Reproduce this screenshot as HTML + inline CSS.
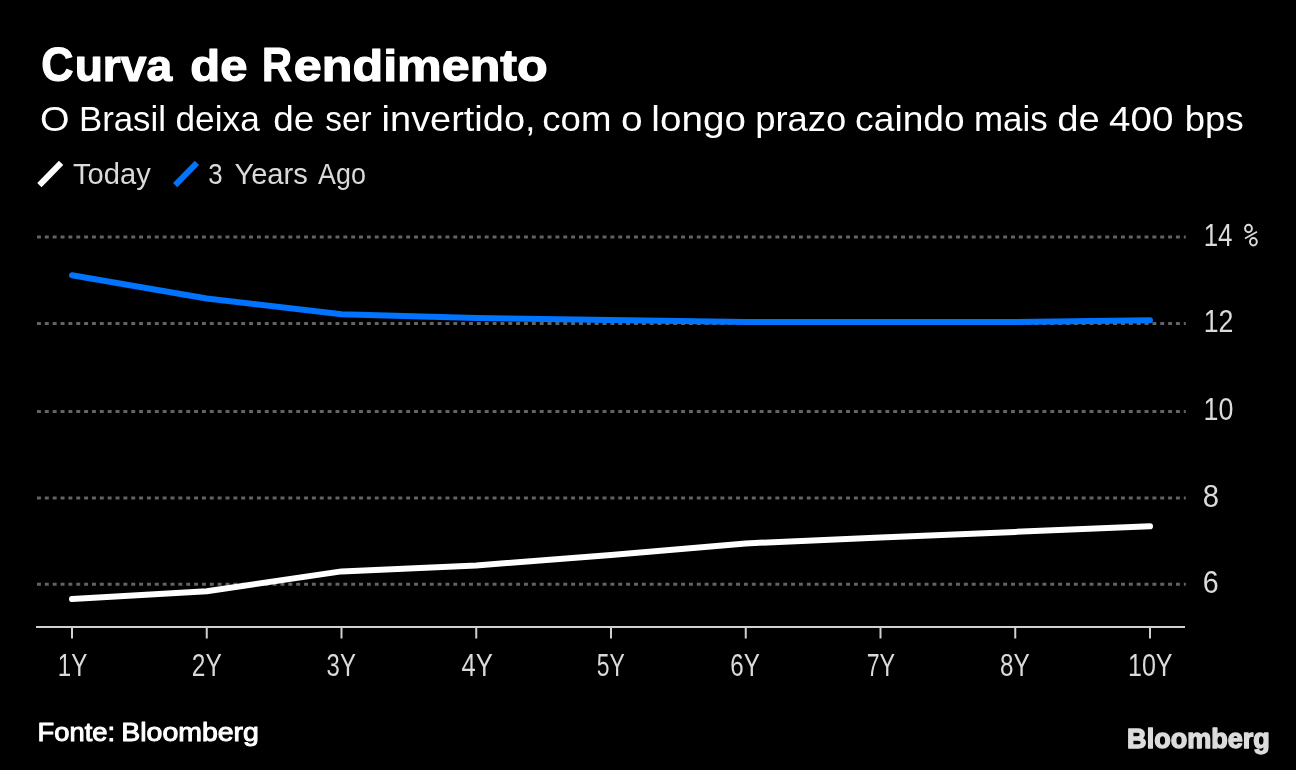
<!DOCTYPE html>
<html lang="pt">
<head>
<meta charset="utf-8">
<title>Curva de Rendimento</title>
<style>
  html, body { margin: 0; padding: 0; background: #000; }
  body { width: 1296px; height: 770px; overflow: hidden; font-family: "Liberation Sans", sans-serif; }
  svg { display: block; will-change: transform; }
  text { font-family: "Liberation Sans", sans-serif; }
  .grid { stroke: #636363; stroke-width: 3; stroke-dasharray: 3.93 3.925; fill: none; }
  .axis { stroke: #d0d0d0; stroke-width: 2; fill: none; }
</style>
</head>
<body>
<svg width="1296" height="770" viewBox="0 0 1296 770">
  <rect x="0" y="0" width="1296" height="770" fill="#000"/>

  <!-- Legend swatches -->
  <line x1="39.4" y1="185.1" x2="61.1" y2="162.9" stroke="#fff" stroke-width="6"/>
  <line x1="175.2" y1="185.1" x2="196.9" y2="162.9" stroke="#0073ff" stroke-width="6"/>

  <!-- Gridlines -->
  <g class="grid">
    <line x1="37" y1="237.1" x2="1185.8" y2="237.1"/>
    <line x1="37" y1="323.4" x2="1185.8" y2="323.4"/>
    <line x1="37" y1="411.4" x2="1185.8" y2="411.4"/>
    <line x1="37" y1="497.9" x2="1185.8" y2="497.9"/>
    <line x1="37" y1="584.3" x2="1185.8" y2="584.3"/>
  </g>

  <!-- Series -->
  <polyline fill="none" stroke="#0073ff" stroke-width="6" stroke-linecap="round" stroke-linejoin="round"
    points="72,275.3 206.75,298.5 341.5,314.3 476.25,318 611,320 745.75,322 880.5,322 1015.25,322 1150,320.3"/>
  <polyline fill="none" stroke="#fff" stroke-width="6" stroke-linecap="round" stroke-linejoin="round"
    points="72,599.0 206.75,591.2 341.5,571.4 476.25,565.5 611,554.9 745.75,543.4 880.5,537.6 1015.25,531.9 1150,526.3"/>

  <!-- X axis -->
  <line class="axis" x1="36" y1="627" x2="1185" y2="627"/>
  <g class="axis">
    <line x1="72" y1="627" x2="72" y2="638.5"/>
    <line x1="206.75" y1="627" x2="206.75" y2="638.5"/>
    <line x1="341.5" y1="627" x2="341.5" y2="638.5"/>
    <line x1="476.25" y1="627" x2="476.25" y2="638.5"/>
    <line x1="611" y1="627" x2="611" y2="638.5"/>
    <line x1="745.75" y1="627" x2="745.75" y2="638.5"/>
    <line x1="880.5" y1="627" x2="880.5" y2="638.5"/>
    <line x1="1015.25" y1="627" x2="1015.25" y2="638.5"/>
    <line x1="1150" y1="627" x2="1150" y2="638.5"/>
  </g>

  <!-- percent sign (custom glyph) -->
  <g id="pct" fill="none" stroke="#dadada">
    <ellipse cx="1248.5" cy="228.5" rx="3.4" ry="3.7" stroke-width="2"/>
    <ellipse cx="1253.4" cy="241.7" rx="3.4" ry="3.7" stroke-width="2"/>
    <line x1="1257" y1="231.7" x2="1245" y2="238.4" stroke-width="1.7"/>
  </g>

  <!-- Text -->
  <text id="t0" x="41.17" y="81.0" font-size="48.2" font-weight="bold" fill="#ffffff" textLength="32.27" lengthAdjust="spacingAndGlyphs" stroke="#fff" stroke-width="1.2" stroke-linejoin="round">C</text>
  <text id="t0b" x="74.65" y="81.0" font-size="45" font-weight="bold" fill="#ffffff" textLength="97.50" lengthAdjust="spacingAndGlyphs" stroke="#fff" stroke-width="1.2" stroke-linejoin="round">urva</text>
  <text id="t1" x="190.31" y="81.0" font-size="45" font-weight="bold" fill="#ffffff" textLength="57.10" lengthAdjust="spacingAndGlyphs" stroke="#fff" stroke-width="1.2" stroke-linejoin="round">de</text>
  <text id="t2" x="262.01" y="81.0" font-size="48.2" font-weight="bold" fill="#ffffff" textLength="30.08" lengthAdjust="spacingAndGlyphs" stroke="#fff" stroke-width="1.2" stroke-linejoin="round">R</text>
  <text id="t2b" x="293.88" y="81.0" font-size="45" font-weight="bold" fill="#ffffff" textLength="253.88" lengthAdjust="spacingAndGlyphs" stroke="#fff" stroke-width="1.2" stroke-linejoin="round">endimento</text>
  <text id="s0" x="40.12" y="131.3" font-size="35" fill="#ffffff" textLength="29.51" lengthAdjust="spacingAndGlyphs" >O</text>
  <text id="s1" x="78.91" y="131.3" font-size="35" fill="#ffffff" textLength="87.06" lengthAdjust="spacingAndGlyphs" >Brasil</text>
  <text id="s2" x="175.49" y="131.3" font-size="35" fill="#ffffff" textLength="84.27" lengthAdjust="spacingAndGlyphs" >deixa</text>
  <text id="s3" x="273.35" y="131.3" font-size="35" fill="#ffffff" textLength="41.00" lengthAdjust="spacingAndGlyphs" >de</text>
  <text id="s4" x="325.30" y="131.3" font-size="35" fill="#ffffff" textLength="46.37" lengthAdjust="spacingAndGlyphs" >ser</text>
  <text id="s5" x="381.63" y="131.3" font-size="35" fill="#ffffff" textLength="153.92" lengthAdjust="spacingAndGlyphs" >invertido,</text>
  <text id="s6" x="542.25" y="131.3" font-size="35" fill="#ffffff" textLength="69.10" lengthAdjust="spacingAndGlyphs" >com</text>
  <text id="s7" x="621.09" y="131.3" font-size="35" fill="#ffffff" textLength="21.64" lengthAdjust="spacingAndGlyphs" >o</text>
  <text id="s8" x="651.39" y="131.3" font-size="35" fill="#ffffff" textLength="94.52" lengthAdjust="spacingAndGlyphs" >longo</text>
  <text id="s9" x="755.17" y="131.3" font-size="35" fill="#ffffff" textLength="91.16" lengthAdjust="spacingAndGlyphs" >prazo</text>
  <text id="s10" x="855.14" y="131.3" font-size="35" fill="#ffffff" textLength="109.52" lengthAdjust="spacingAndGlyphs" >caindo</text>
  <text id="s11" x="974.01" y="131.3" font-size="35" fill="#ffffff" textLength="73.69" lengthAdjust="spacingAndGlyphs" >mais</text>
  <text id="s12" x="1057.21" y="131.3" font-size="35" fill="#ffffff" textLength="42.60" lengthAdjust="spacingAndGlyphs" >de</text>
  <text id="s13" x="1109.10" y="131.3" font-size="35" fill="#ffffff" textLength="64.41" lengthAdjust="spacingAndGlyphs" >400</text>
  <text id="s14" x="1184.82" y="131.3" font-size="35" fill="#ffffff" textLength="58.81" lengthAdjust="spacingAndGlyphs" >bps</text>
  <text id="leg1" x="73.05" y="183.6" font-size="30" fill="#dadada" textLength="77.75" lengthAdjust="spacingAndGlyphs" >Today</text>
  <text id="leg2a" x="208.14" y="183.6" font-size="30" fill="#dadada" textLength="14.35" lengthAdjust="spacingAndGlyphs" >3</text>
  <text id="leg2b" x="234.40" y="183.6" font-size="30" fill="#dadada" textLength="73.47" lengthAdjust="spacingAndGlyphs" >Years</text>
  <text id="leg2c" x="318.10" y="183.6" font-size="30" fill="#dadada" textLength="47.81" lengthAdjust="spacingAndGlyphs" >Ago</text>
  <text id="y14" x="1203.70" y="246.0" font-size="30.5" fill="#dadada" textLength="28.87" lengthAdjust="spacingAndGlyphs" >14</text>
  <text id="y12" x="1203.64" y="332.3" font-size="30.5" fill="#dadada" textLength="29.80" lengthAdjust="spacingAndGlyphs" >12</text>
  <text id="y10" x="1203.44" y="420.3" font-size="30.5" fill="#dadada" textLength="29.91" lengthAdjust="spacingAndGlyphs" >10</text>
  <text id="y8" x="1202.84" y="506.8" font-size="30.5" fill="#dadada" textLength="16.28" lengthAdjust="spacingAndGlyphs" >8</text>
  <text id="y6" x="1202.86" y="593.2" font-size="30.5" fill="#dadada" textLength="15.94" lengthAdjust="spacingAndGlyphs" >6</text>
  <text id="x1" x="57.72" y="676" font-size="30.5" fill="#dadada" textLength="29.56" lengthAdjust="spacingAndGlyphs" >1Y</text>
  <text id="x2" x="191.80" y="676" font-size="30.5" fill="#dadada" textLength="29.98" lengthAdjust="spacingAndGlyphs" >2Y</text>
  <text id="x3" x="326.62" y="676" font-size="30.5" fill="#dadada" textLength="29.25" lengthAdjust="spacingAndGlyphs" >3Y</text>
  <text id="x4" x="461.50" y="676" font-size="30.5" fill="#dadada" textLength="31.39" lengthAdjust="spacingAndGlyphs" >4Y</text>
  <text id="x5" x="596.65" y="676" font-size="30.5" fill="#dadada" textLength="28.01" lengthAdjust="spacingAndGlyphs" >5Y</text>
  <text id="x6" x="730.31" y="676" font-size="30.5" fill="#dadada" textLength="29.56" lengthAdjust="spacingAndGlyphs" >6Y</text>
  <text id="x7" x="866.64" y="676" font-size="30.5" fill="#dadada" textLength="28.42" lengthAdjust="spacingAndGlyphs" >7Y</text>
  <text id="x8" x="999.90" y="676" font-size="30.5" fill="#dadada" textLength="29.67" lengthAdjust="spacingAndGlyphs" >8Y</text>
  <text id="x10" x="1127.96" y="676" font-size="30.5" fill="#dadada" textLength="44.63" lengthAdjust="spacingAndGlyphs" >10Y</text>
  <text id="f0" x="37.60" y="740.5" font-size="26" fill="#ffffff" textLength="77.44" lengthAdjust="spacingAndGlyphs" stroke="#fff" stroke-width="1.0" stroke-linejoin="round">Fonte:</text>
  <text id="f1" x="121.31" y="740.5" font-size="26" fill="#ffffff" textLength="137.59" lengthAdjust="spacingAndGlyphs" stroke="#fff" stroke-width="1.0" stroke-linejoin="round">Bloomberg</text>
  <text id="logo" x="1127.12" y="748.2" font-size="27.5" font-weight="bold" fill="#dcdcdc" textLength="142.75" lengthAdjust="spacingAndGlyphs" stroke="#dcdcdc" stroke-width="1.4" stroke-linejoin="round">Bloomberg</text>
</svg>
</body>
</html>
